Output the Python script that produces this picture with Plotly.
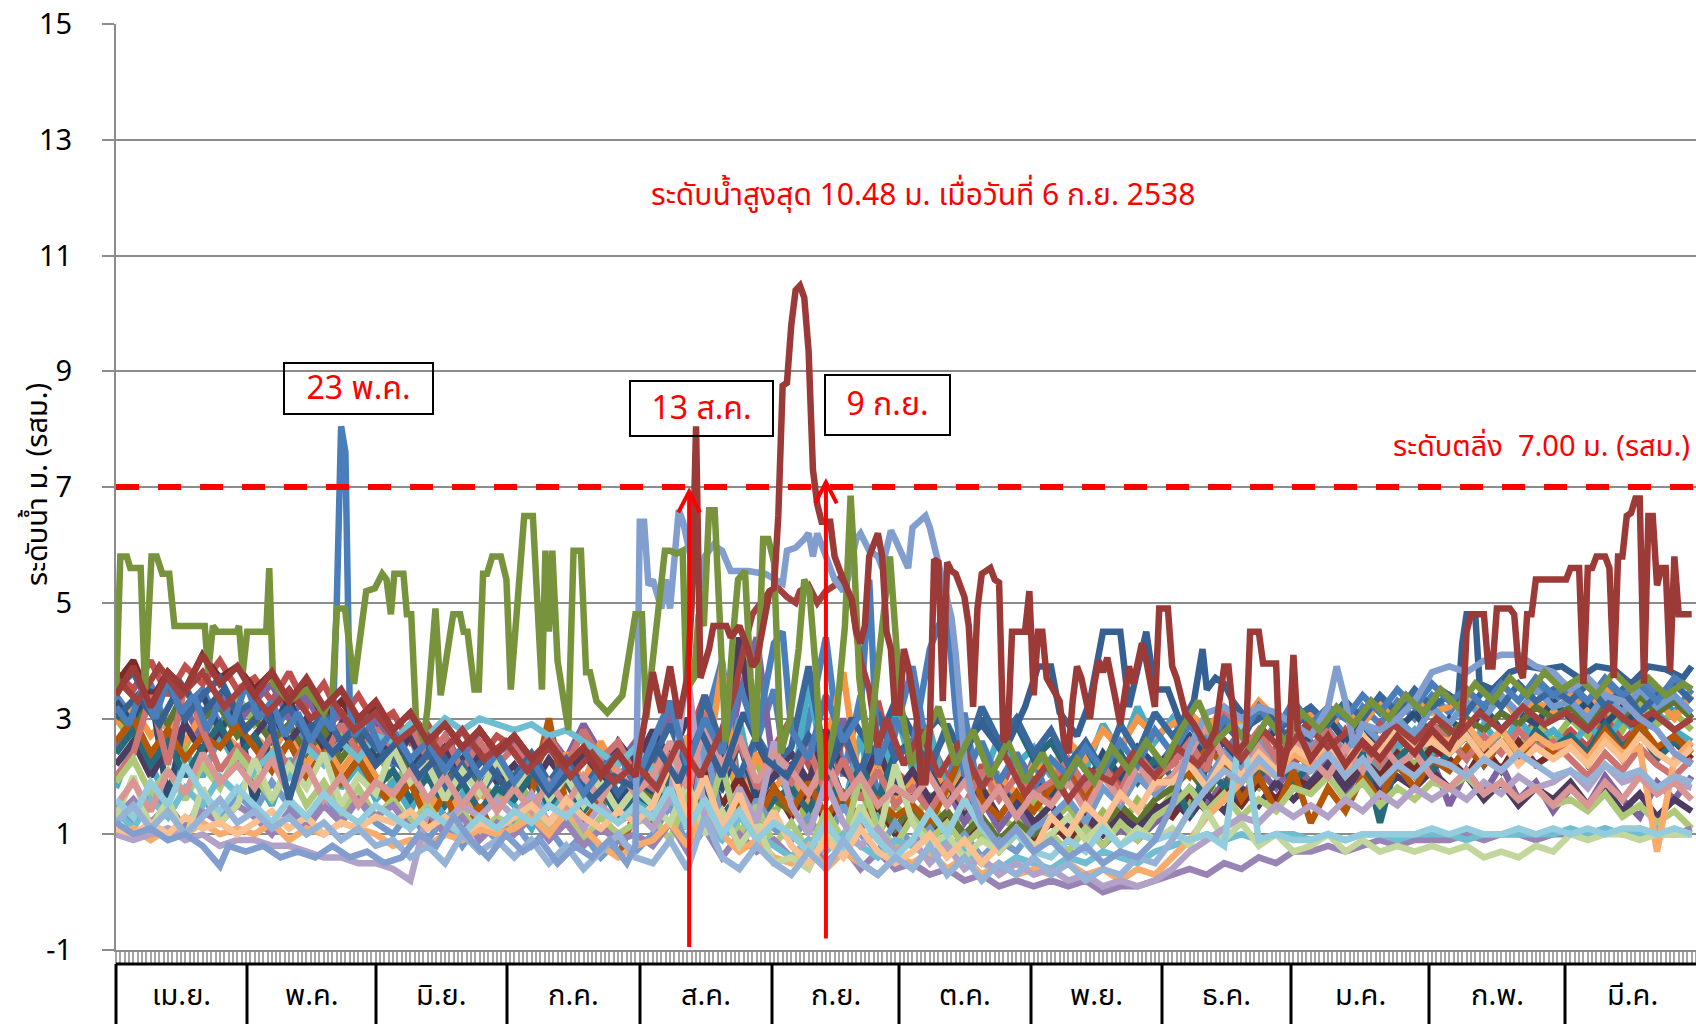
import plotly.graph_objects as go

# ---------------- layout constants (pixels) ----------------
FIG_W, FIG_H = 1696, 1024
M_L, M_R, M_T, M_B = 116, 0, 24, 74
PLOT_W = FIG_W - M_L - M_R
PLOT_H = FIG_H - M_T - M_B
X_MAX = 365.0
FONT = "Tahoma, 'Leelawadee UI', 'Noto Sans Thai', 'DejaVu Sans', sans-serif"
LW = 6.5

def px_to_paper_x(px):
    return (px - M_L) / PLOT_W

def px_to_paper_y(py):
    return (FIG_H - M_B - py) / PLOT_H

# ---------------- data ----------------
month_labels = ["เม.ย.", "พ.ค.", "มิ.ย.", "ก.ค.", "ส.ค.", "ก.ย.",
                "ต.ค.", "พ.ย.", "ธ.ค.", "ม.ค.", "ก.พ.", "มี.ค."]
y_ticks = [-1, 1, 3, 5, 7, 9, 11, 13, 15]
bank_level = 7.00

bg_days = list(range(0, 365, 4))

s01 = [3.4, 3.0, 3.6, 2.8, 3.2, 3.5, 2.9, 3.3, 3.1, 2.7, 3.2, 2.6, 3.0, 2.5, 2.9, 2.4,
       2.2, 2.7, 1.9, 2.4, 2.0, 2.6, 2.1, 1.8, 2.3, 1.7, 2.2, 1.6, 2.4, 1.9, 2.5,
       2.0, 3.2, 1.8, 2.9, 4.0, 1.7, 2.6, 3.5, 1.5, 2.9, 4.4, 2.0, 3.4, 1.6, 2.8,
       3.9, 2.2, 1.8, 3.1, 1.4, 2.0, 1.6, 2.3, 1.5, 2.0, 1.6, 2.2, 1.9, 2.4, 2.1,
       2.5, 2.2, 2.7, 2.4, 2.8, 2.5, 2.9, 2.6, 2.8, 3.1, 2.7, 3.2, 2.9, 3.3, 3.0, 3.4,
       3.1, 3.5, 3.2, 3.4, 3.0, 3.6, 3.3, 3.5, 3.2, 3.6, 3.3, 3.7, 3.4, 3.1, 3.5]
s02 = [3.8, 3.5, 4.0, 3.4, 3.9, 3.6, 4.0, 3.5, 3.7, 3.3, 3.8, 3.2, 3.6, 3.0, 3.4, 2.9,
       3.1, 2.6, 2.9, 2.4, 2.8, 2.3, 2.7, 2.5, 2.0, 2.6, 2.2, 2.8, 2.1, 2.4, 1.9,
       2.3, 1.8, 2.6, 3.4, 2.0, 2.9, 1.7, 2.5, 3.0, 2.2, 1.6, 2.7, 2.0, 3.3, 2.1,
       1.8, 2.6, 2.0, 1.4, 2.2, 1.7, 2.4, 1.9, 1.6, 2.1, 1.5, 2.3, 1.8, 2.0, 1.7,
       2.0, 2.4, 1.9, 2.2, 2.6, 2.1, 2.5, 2.2, 2.6, 2.3, 2.8, 2.4, 2.9, 2.5, 2.7, 2.3,
       2.6, 2.9, 2.4, 2.8, 2.5, 3.0, 2.6, 2.8, 2.5, 3.1, 2.6, 2.9, 2.4, 2.7, 2.5]
s03 = [3.0, 2.6, 3.3, 2.8, 2.5, 3.1, 2.7, 3.4, 2.9, 3.2, 2.6, 3.0, 2.4, 2.8, 2.2, 2.6,
       1.8, 2.3, 1.5, 2.0, 1.3, 1.9, 1.6, 2.1, 1.5, 1.9, 1.3, 1.8, 1.4, 2.0, 1.6,
       1.4, 2.2, 1.2, 1.9, 2.8, 1.5, 2.3, 1.3, 2.0, 1.1, 2.6, 1.4, 1.8, 1.0, 1.5,
       1.2, 1.7, 1.0, 1.4, 0.9, 1.3, 1.1, 1.6, 1.2, 1.5, 1.0, 1.4, 1.1, 1.6, 1.3,
       1.7, 1.5, 1.9, 1.6, 2.0, 1.8, 2.2, 1.9, 2.1, 2.4, 2.0, 2.3, 1.9, 2.5, 2.2, 2.6,
       2.4, 2.7, 2.3, 2.8, 2.5, 2.9, 2.6, 3.0, 2.7, 3.2, 2.8, 3.3, 2.9, 3.1, 2.8]
s04 = [2.5, 2.9, 2.3, 2.7, 3.2, 2.6, 3.4, 2.9, 3.3, 3.6, 3.0, 3.4, 2.8, 3.1, 2.6, 3.0,
       2.6, 2.9, 2.3, 2.7, 2.2, 2.8, 2.4, 2.6, 2.1, 2.7, 2.3, 2.9, 2.4, 2.2, 2.6,
       2.3, 3.1, 2.0, 2.8, 1.8, 3.4, 4.4, 2.1, 1.7, 2.6, 1.9, 3.0, 1.6, 2.3, 1.5,
       2.0, 1.4, 1.8, 1.2, 1.6, 1.1, 1.5, 1.0, 1.3, 0.9, 1.2, 0.8, 1.1, 0.9, 1.2,
       1.4, 1.8, 1.5, 1.9, 1.6, 2.1, 1.8, 2.2, 1.9, 2.3, 1.7, 2.2, 1.8, 2.4, 2.0, 2.3,
       1.5, 2.1, 1.7, 2.2, 1.6, 1.9, 1.4, 1.8, 1.5, 2.0, 1.6, 1.3, 1.9, 1.6, 2.0]
s05 = [1.8, 2.6, 2.2, 1.6, 2.4, 2.0, 2.7, 2.2, 2.0, 1.5, 2.3, 1.9, 2.5, 1.8, 2.2, 1.6,
       1.9, 1.4, 2.1, 1.2, 1.7, 1.3, 1.8, 1.5, 1.1, 1.7, 1.3, 1.9, 1.4, 2.0, 1.6,
       1.3, 1.9, 2.5, 1.4, 1.8, 3.0, 1.5, 2.2, 1.6, 3.6, 2.0, 1.4, 2.7, 1.2, 3.2,
       2.1, 2.8, 1.7, 2.4, 1.9, 2.7, 2.2, 2.5, 2.0, 2.6, 2.1, 2.9, 2.4, 3.2, 2.6,
       3.0, 2.5, 2.8, 2.2, 2.6, 2.1, 2.4, 2.0, 2.3, 2.7, 2.2, 2.6, 2.1, 2.5, 2.8, 2.4,
       2.7, 2.3, 2.9, 2.5, 3.0, 2.6, 2.8, 2.5, 2.9, 2.6, 3.0, 2.7, 3.1, 2.8, 2.6]
s06 = [2.9, 3.2, 2.7, 3.0, 2.6, 3.1, 2.8, 2.5, 2.7, 2.4, 2.9, 2.2, 2.6, 2.1, 2.5, 2.0,
       1.6, 2.0, 1.4, 1.8, 1.3, 1.7, 1.5, 1.8, 2.3, 1.7, 2.4, 1.9, 2.6, 2.0, 1.7,
       2.2, 1.6, 2.7, 1.9, 3.9, 1.4, 2.4, 1.8, 2.1, 1.5, 2.5, 3.8, 1.7, 2.3, 1.6,
       1.9, 2.4, 1.6, 2.1, 1.5, 2.0, 1.7, 2.2, 2.1, 2.6, 2.3, 2.8, 2.5, 3.0, 2.7,
       2.9, 3.1, 2.8, 3.2, 2.9, 3.3, 3.0, 2.9, 3.1, 2.8, 3.2, 2.9, 3.3, 3.0, 3.4, 3.1,
       3.2, 3.5, 3.1, 3.4, 3.0, 3.3, 3.1, 3.4, 3.1, 3.5, 3.2, 3.6, 3.3, 3.0, 3.4]
s07 = [3.3, 2.9, 3.5, 1.6, 3.0, 3.4, 2.8, 3.2, 1.5, 2.9, 3.3, 2.7, 3.0, 2.5, 2.8, 2.3,
       2.6, 2.1, 2.5, 1.9, 2.3, 1.8, 2.2, 1.9, 2.4, 1.8, 2.2, 1.7, 2.1, 1.6, 2.0,
       1.7, 2.4, 1.5, 2.1, 1.8, 2.6, 1.6, 2.0, 2.2, 1.8, 2.4, 1.6, 2.0, 1.5, 1.9,
       1.6, 2.1, 1.5, 2.0, 1.4, 1.8, 1.5, 1.9, 1.7, 2.2, 1.8, 2.4, 2.0, 2.5, 2.2,
       2.4, 2.7, 2.3, 2.6, 2.2, 2.5, 2.8, 2.4, 2.7, 3.0, 2.6, 2.9, 2.5, 2.8, 3.1, 2.7,
       3.0, 2.7, 3.2, 2.8, 3.1, 2.9, 3.3, 3.0, 3.3, 2.9, 3.2, 2.8, 3.1, 3.4, 3.0]
s08 = [3.6, 4.0, 3.3, 3.8, 3.5, 4.1, 3.7, 3.9, 3.5, 3.8, 3.2, 3.6, 3.0, 3.3, 2.9, 3.2,
       2.8, 3.1, 2.6, 2.9, 2.5, 2.8, 2.4, 2.7, 2.3, 2.6, 2.1, 2.5, 2.0, 2.4, 2.2,
       1.9, 2.5, 1.7, 2.2, 1.5, 2.0, 1.4, 1.8, 1.3, 1.8, 1.2, 1.6, 1.1, 1.5, 1.0,
       1.4, 1.0, 1.3, 0.9, 1.2, 0.8, 1.1, 0.9, 1.2, 0.9, 1.3, 1.0, 1.4, 1.1, 1.5,
       1.3, 1.7, 1.4, 1.8, 1.5, 1.9, 1.6, 2.0, 1.8, 2.2, 1.9, 2.3, 2.0, 2.4, 2.1, 2.5,
       2.3, 2.0, 2.5, 2.1, 2.6, 2.2, 2.4, 2.6, 2.2, 2.7, 2.3, 2.8, 2.4, 2.6, 2.3]
s09 = [3.1, 2.8, 3.3, 2.9, 3.5, 3.0, 3.2, 2.7, 3.0, 2.6, 2.9, 2.4, 2.8, 2.3, 2.7, 2.2,
       2.5, 2.0, 2.4, 1.9, 2.2, 1.8, 2.1, 1.7, 2.1, 1.6, 2.0, 1.5, 1.9, 1.4, 1.8,
       1.6, 2.0, 1.4, 1.9, 1.3, 1.7, 1.2, 1.6, 1.4, 1.9, 1.3, 1.7, 1.2, 1.6, 1.1,
       1.5, 1.1, 1.4, 1.0, 1.3, 0.9, 1.2, 1.0, 1.3, 1.0, 1.4, 1.1, 1.5, 1.2, 1.6,
       1.8, 2.1, 1.7, 2.2, 1.9, 2.3, 2.0, 2.4, 2.2, 2.6, 2.3, 2.7, 2.4, 2.8, 2.5, 2.9,
       2.7, 3.0, 2.8, 3.1, 2.9, 3.2, 3.0, 3.2, 2.9, 3.3, 3.0, 3.4, 3.1, 3.3, 3.0]
s10 = [2.2, 2.6, 2.0, 2.5, 2.9, 2.4, 2.8, 2.3, 2.7, 3.1, 2.6, 3.0, 2.5, 2.9, 2.4, 2.8,
       2.3, 2.7, 2.1, 2.5, 2.0, 2.4, 1.9, 2.2, 1.8, 2.3, 1.9, 2.4, 2.0, 2.6, 2.2,
       2.8, 2.3, 3.0, 2.5, 2.2, 4.4, 2.6, 2.0, 2.4, 1.9, 2.8, 2.1, 1.8, 2.5, 1.7,
       2.1, 1.6, 1.9, 1.4, 1.8, 1.3, 1.7, 1.2, 1.5, 1.1, 1.4, 1.0, 1.3, 1.1, 1.4,
       1.6, 1.3, 1.7, 1.4, 1.8, 1.5, 1.9, 1.6, 1.9, 2.2, 1.8, 2.1, 1.7, 2.0, 1.8, 2.1,
       1.8, 2.0, 1.6, 1.9, 1.5, 1.8, 1.6, 1.9, 1.5, 1.8, 1.4, 1.7, 1.3, 1.6, 1.4]
s11 = [2.4, 2.8, 2.2, 2.6, 2.0, 2.5, 2.9, 2.3, 2.7, 2.2, 2.6, 2.0, 2.4, 1.9, 2.3, 1.8,
       2.1, 1.6, 2.0, 1.5, 1.9, 1.4, 1.8, 1.6, 2.0, 1.5, 1.9, 1.4, 1.8, 1.3, 1.7,
       1.5, 1.9, 1.4, 1.8, 1.3, 1.7, 1.2, 1.6, 1.8, 1.4, 2.0, 1.5, 2.2, 1.6, 2.4,
       2.6, 2.2, 2.8, 2.4, 3.0, 2.5, 2.9, 2.3, 2.6, 2.1, 2.5, 2.0, 2.4, 1.9, 2.3,
       2.0, 1.3, 2.2, 1.8, 2.5, 2.0, 2.3, 1.9, 2.2, 2.5, 2.0, 2.4, 1.2, 2.3, 2.6, 2.1,
       2.4, 2.7, 2.2, 2.6, 2.3, 2.8, 2.5, 2.7, 2.4, 2.9, 2.5, 2.8, 2.3, 2.6, 2.4]
s12 = [2.6, 3.0, 2.4, 2.8, 2.3, 2.7, 2.5, 2.9, 2.5, 2.1, 2.6, 2.0, 2.4, 1.9, 2.3, 1.8,
       1.5, 1.9, 1.2, 1.7, 1.0, 1.5, 0.9, 1.3, 1.7, 3.0, 1.5, 1.2, 1.6, 0.6, 1.4,
       1.2, 1.7, 1.1, 1.6, 1.0, 1.5, 1.2, 1.8, 1.4, 1.9, 1.3, 1.7, 1.2, 1.6, 1.3,
       1.5, 1.2, 1.8, 2.5, 1.6, 1.3, 1.7, 1.4, 1.8, 2.2, 1.7, 2.1, 1.6, 2.0, 1.9,
       2.3, 2.0, 2.5, 2.2, 1.6, 2.0, 1.4, 2.1, 1.2, 1.8, 1.4, 2.0, 1.6, 2.2, 1.8, 2.3,
       2.1, 2.5, 2.2, 2.6, 2.3, 2.7, 2.4, 2.6, 2.3, 2.8, 2.4, 2.9, 2.5, 2.7, 2.4]
s13 = [1.5, 1.2, 1.8, 1.4, 1.1, 1.6, 1.3, 1.7, 1.4, 1.9, 1.5, 1.2, 1.7, 1.3, 1.6, 1.2,
       1.0, 1.4, 0.9, 1.3, 0.8, 1.2, 0.9, 1.2, 0.8, 1.1, 0.7, 1.0, 0.6, 0.9, 0.7,
       1.0, 1.5, 0.8, 2.6, 1.2, 0.9, 1.6, 1.1, 0.9, 1.3, 0.8, 1.5, 1.0, 0.7, 1.2,
       0.8, 1.1, 0.7, 1.0, 0.6, 0.9, 0.7, 1.1, 1.3, 1.6, 1.2, 1.8, 1.5, 2.0, 1.7,
       2.0, 2.3, 1.9, 2.4, 2.1, 2.6, 2.2, 2.7, 2.5, 2.8, 2.4, 2.9, 2.6, 3.0, 2.7, 3.2,
       2.9, 3.3, 3.0, 3.4, 3.1, 3.5, 3.2, 3.3, 3.0, 3.4, 3.1, 3.5, 3.2, 3.4, 3.1]
s14 = [2.0, 2.4, 3.4, 2.2, 3.6, 2.8, 2.1, 2.5, 2.2, 2.7, 2.1, 2.6, 2.3, 2.9, 2.4, 2.8,
       2.5, 2.9, 2.3, 2.7, 2.1, 2.6, 2.2, 2.5, 2.1, 2.7, 2.2, 2.8, 2.3, 2.6, 2.0,
       1.8, 2.4, 1.6, 3.1, 2.0, 2.6, 1.8, 2.2, 1.9, 2.5, 1.7, 2.3, 1.6, 2.1, 1.5,
       1.8, 1.4, 1.9, 1.5, 2.1, 1.6, 2.0, 1.7, 1.9, 2.3, 1.8, 2.2, 1.7, 2.4, 2.0,
       2.2, 2.6, 2.1, 3.2, 2.4, 2.8, 2.3, 2.7, 2.4, 2.8, 2.3, 2.6, 2.2, 2.7, 2.5, 2.9,
       2.6, 2.3, 2.7, 2.4, 2.8, 2.5, 2.6, 2.3, 2.0, 2.4, 2.1, 2.5, 2.2, 2.0, 2.3]
s15 = [1.9, 2.3, 1.7, 2.1, 1.6, 2.2, 1.8, 2.4, 2.0, 1.6, 2.1, 1.5, 1.9, 1.4, 1.8, 1.3,
       1.6, 1.2, 1.5, 1.1, 1.4, 1.0, 1.3, 1.1, 1.5, 1.0, 1.4, 0.9, 1.3, 1.0, 1.2,
       1.3, 0.9, 1.7, 1.1, 2.2, 1.0, 1.5, 0.8, 1.2, 0.7, 1.4, 0.9, 2.0, 1.1, 0.8,
       1.3, 0.9, 1.2, 0.8, 1.1, 0.7, 1.0, 0.8, 1.0, 0.7, 1.1, 0.8, 1.2, 0.9, 1.3,
       1.5, 1.8, 1.4, 1.7, 1.3, 1.6, 1.4, 1.8, 1.7, 2.0, 1.6, 1.9, 1.5, 1.8, 1.6, 1.9,
       1.8, 2.0, 1.7, 1.9, 1.6, 1.8, 1.5, 1.6, 1.4, 1.7, 1.3, 1.5, 1.2, 1.4, 1.1]
s16 = [1.3, 1.6, 1.2, 1.5, 1.1, 1.4, 1.2, 1.5, 1.3, 1.0, 1.4, 1.1, 1.5, 1.2, 1.6, 1.3,
       1.5, 1.1, 1.4, 1.0, 1.3, 0.9, 1.2, 1.0, 1.3, 0.9, 1.2, 0.8, 1.1, 0.9, 1.0,
       0.8, 1.2, 0.7, 1.1, 0.6, 1.0, 0.7, 0.9, 0.6, 0.9, 0.5, 0.8, 0.4, 0.7, 0.4,
       0.5, 0.3, 0.4, 0.2, 0.3, 0.1, 0.2, 0.1, 0.2, 0.1, 0.2, 0.0, 0.1, 0.1, 0.2,
       0.3, 0.4, 0.3, 0.5, 0.4, 0.6, 0.5, 0.7, 0.7, 0.8, 0.7, 0.8, 0.9, 0.8, 0.9, 0.9,
       0.9, 1.0, 0.9, 1.0, 1.0, 0.9, 1.0, 1.0, 1.0, 1.1, 1.0, 1.1, 1.0, 1.0, 1.1]
s17 = [1.4, 1.1, 1.6, 1.3, 1.8, 1.5, 2.0, 1.7, 2.1, 2.4, 2.0, 2.5, 2.2, 2.6, 2.3, 2.7,
       2.6, 2.9, 2.7, 3.0, 2.8, 3.0, 2.9, 2.8, 2.9, 2.7, 2.8, 2.6, 2.4, 2.2, 2.5,
       2.1, 1.6, 1.3, 1.1, 0.9, 1.3, 1.0, 0.8, 0.6, 0.9, 0.7, 1.0, 0.8, 0.6, 0.9,
       0.8, 0.6, 0.9, 0.7, 0.5, 0.4, 0.6, 0.5, 0.4, 0.6, 0.5, 0.7, 0.6, 0.5, 0.7,
       0.8, 0.9, 1.0, 0.9, 1.0, 0.9, 1.0, 1.0, 0.9, 1.0, 0.9, 1.0, 1.0, 0.9, 1.0, 1.0,
       1.0, 0.9, 1.0, 1.0, 1.0, 1.0, 1.0, 1.1, 1.0, 1.1, 1.0, 1.0, 1.1, 1.0, 1.0]
s18 = [1.0, 1.1, 0.9, 1.1, 1.0, 1.2, 1.0, 1.1, 1.0, 1.2, 0.9, 1.1, 1.0, 1.2, 1.1, 1.0,
       0.8, 0.9, 0.8, 1.0, 0.9, 1.1, 1.0, 1.1, 1.3, 1.0, 1.4, 1.1, 0.8, 0.6, 0.8,
       0.9, 1.2, 0.8, 1.5, 1.0, 0.7, 0.9, 0.6, 0.5, 0.8, 0.4, 0.7, 0.5, 0.3, 0.6,
       0.5, 0.7, 0.4, 0.6, 0.3, 0.5, 0.3, 0.4, 0.3, 0.5, 0.3, 0.4, 0.2, 0.4, 0.3,
       0.6, 0.9, 1.3, 1.6, 1.9, 2.2, 2.0, 2.4, 2.2, 2.5, 2.1, 2.6, 2.3, 2.8, 2.5, 2.7,
       2.6, 2.9, 2.5, 2.8, 2.4, 2.7, 2.5, 2.6, 2.3, 2.7, 2.4, 2.5, 0.7, 2.3, 2.6]
s19 = [3.5, 3.8, 3.2, 3.6, 3.0, 3.4, 3.7, 3.1, 3.3, 2.9, 3.2, 2.7, 3.1, 2.6, 2.9, 2.5,
       2.3, 2.0, 2.4, 1.8, 2.2, 1.7, 2.1, 2.0, 2.4, 1.9, 2.3, 1.8, 2.2, 1.7, 2.1,
       2.3, 2.9, 2.1, 3.4, 2.5, 2.0, 2.7, 2.2, 2.5, 3.9, 2.2, 2.8, 2.0, 3.1, 2.3,
       2.6, 2.1, 2.9, 2.3, 3.2, 2.6, 3.0, 2.4, 2.8, 2.2, 2.6, 2.1, 2.9, 2.4, 3.1,
       2.7, 3.0, 2.5, 2.9, 2.6, 3.2, 2.8, 3.0, 3.2, 2.9, 3.3, 3.0, 3.4, 3.1, 3.5, 3.2,
       3.4, 3.1, 3.5, 3.2, 3.6, 3.3, 3.5, 3.3, 3.6, 3.2, 3.5, 3.1, 3.4, 3.6, 3.3]
s20 = [1.3, 2.0, 1.1, 1.6, 0.9, 1.8, 1.2, 1.5, 2.3, 1.6, 2.2, 1.8, 2.4, 1.5, 2.0, 1.7,
       2.5, 1.9, 2.2, 1.6, 2.1, 1.7, 2.3, 1.8, 2.2, 1.6, 2.0, 1.5, 1.9, 1.4, 1.8,
       1.5, 1.2, 1.9, 1.0, 1.4, 0.8, 1.2, 0.5, 0.6, 0.4, 1.0, 0.7, 1.5, 0.9, 2.2,
       1.2, 0.8, 1.0, 0.6, 0.9, 0.7, 1.1, 0.8, 1.0, 1.3, 0.9, 1.2, 0.8, 1.1, 0.9,
       1.1, 0.8, 1.4, 0.9, 1.2, 0.8, 1.0, 0.7, 0.8, 1.0, 0.7, 0.9, 0.7, 0.8, 0.7, 0.8,
       0.7, 0.8, 0.6, 0.7, 0.6, 0.8, 0.7, 1.0, 0.9, 1.0, 1.0, 0.9, 1.0, 1.0, 1.0]
s21 = [1.0, 0.9, 1.0, 1.1, 0.9, 1.0, 0.8, 0.9, 0.9, 0.8, 0.8, 0.7, 0.6, 0.6, 0.5, 0.5,
       0.4, 0.2, 1.4, 1.2, 1.5, 1.3, 1.6, 1.3, 1.7, 1.2, 1.6, 1.1, 1.5, 1.2, 1.4,
       1.1, 1.6, 3.8, 1.3, 1.0, 1.8, 1.2, 2.6, 1.5, 1.0, 1.9, 1.2, 0.8, 1.1, 0.7,
       0.9, 0.5, 0.8, 0.4, 0.6, 0.3, 0.5, 0.3, 0.4, 0.2, 0.3, 0.1, 0.2, 0.1, 0.2,
       0.4, 0.7, 0.9, 1.1, 1.3, 1.2, 1.5, 1.3, 1.5, 1.3, 1.6, 1.4, 1.7, 1.5, 1.8, 1.6,
       1.8, 1.6, 1.9, 1.7, 2.0, 1.8, 1.9, 2.1, 1.8, 2.2, 1.9, 2.0, 1.7, 1.9, 1.8]
s22 = [1.5, 1.9, 1.4, 2.1, 1.7, 2.4, 1.9, 2.2, 1.8, 2.3, 1.7, 2.2, 1.6, 2.0, 1.5, 1.9,
       1.7, 2.1, 1.6, 2.0, 1.5, 1.9, 1.4, 1.8, 1.4, 1.9, 1.5, 2.0, 1.6, 2.1, 1.7,
       2.0, 2.6, 1.8, 2.9, 2.2, 2.7, 1.9, 2.4, 2.1, 1.7, 2.3, 1.6, 2.0, 1.5, 1.8,
       1.6, 2.0, 1.5, 1.9, 1.4, 1.8, 1.3, 1.7, 1.5, 1.9, 1.4, 2.0, 1.6, 2.2, 1.8,
       2.0, 2.4, 2.9, 2.3, 2.0, 2.5, 2.1, 2.6, 2.3, 2.0, 2.5, 2.1, 2.6, 2.2, 2.4, 2.0,
       1.8, 2.1, 1.7, 1.9, 1.6, 1.8, 1.5, 1.8, 1.5, 1.9, 1.6, 2.0, 1.7, 1.9, 1.6]
s23 = [1.1, 1.0, 1.2, 1.0, 1.3, 1.1, 1.2, 1.0, 1.2, 1.4, 1.1, 1.3, 1.0, 1.2, 1.1, 1.3,
       1.2, 1.4, 1.1, 1.3, 1.0, 1.2, 1.1, 1.3, 1.5, 1.2, 1.6, 1.3, 1.1, 1.4, 1.2,
       1.5, 2.2, 1.3, 2.0, 1.1, 1.7, 0.9, 1.4, 0.8, 0.5, 0.9, 0.6, 1.1, 0.7, 0.5,
       0.7, 1.0, 0.6, 0.9, 0.5, 0.8, 1.1, 0.7, 1.3, 1.0, 1.5, 1.2, 1.7, 1.4, 1.9,
       1.9, 2.2, 1.8, 2.3, 2.0, 2.4, 2.1, 2.5, 2.3, 2.6, 2.2, 2.7, 2.4, 2.8, 2.5, 2.6,
       2.4, 2.7, 2.3, 2.6, 2.2, 2.5, 2.3, 2.5, 2.2, 2.6, 2.3, 2.7, 2.4, 2.2, 2.5]
s24 = [1.6, 1.3, 1.9, 1.5, 2.2, 1.7, 1.4, 1.8, 1.5, 1.2, 1.6, 1.3, 1.7, 1.4, 1.2, 1.5,
       1.3, 1.1, 1.4, 1.2, 1.0, 1.3, 1.1, 1.4, 1.2, 1.5, 1.3, 1.6, 1.4, 1.2, 1.5,
       1.3, 1.8, 1.1, 1.6, 1.0, 1.4, 0.9, 1.2, 1.0, 0.7, 1.2, 0.8, 1.3, 0.9, 0.6,
       0.9, 1.4, 1.0, 1.6, 1.1, 0.8, 1.0, 0.7, 0.6, 0.9, 0.7, 1.1, 0.8, 1.0, 0.9,
       1.0, 0.9, 1.0, 0.8, 2.9, 0.9, 1.0, 0.9, 0.9, 1.0, 0.9, 1.0, 1.0, 1.0, 1.0, 1.1,
       1.0, 1.1, 1.0, 1.0, 1.1, 1.0, 1.1, 1.0, 1.1, 1.0, 1.1, 1.1, 1.0, 1.1, 1.0]
s25 = [1.2, 1.5, 1.1, 1.4, 1.0, 1.3, 1.6, 1.2, 1.4, 1.1, 1.3, 1.0, 1.2, 0.9, 1.1, 0.8,
       0.9, 0.6, 0.8, 0.5, 1.0, 0.7, 0.9, 0.6, 0.9, 0.5, 0.8, 0.4, 0.7, 1.0, 0.6,
       0.5, 0.9, 0.4, 1.3, 0.6, 0.4, 0.8, 0.5, 0.3, 0.7, 0.4, 0.9, 0.5, 0.3, 0.6,
       0.4, 0.8, 0.3, 0.6, 0.2, 0.5, 0.3, 0.6, 0.3, 0.5, 0.2, 0.4, 0.3, 0.6, 0.5,
       0.9, 1.4, 1.8, 2.1, 1.9, 2.3, 2.0, 2.2, 2.1, 2.4, 2.0, 2.3, 1.9, 2.2, 2.0, 2.3,
       2.2, 2.0, 2.3, 2.1, 2.4, 2.2, 2.0, 2.1, 1.9, 2.2, 2.0, 2.1, 1.8, 2.0, 1.9]

bg_series = [s01, s02, s03, s04, s05, s06, s07, s08, s09, s10, s11, s12, s13,
             s14, s15, s16, s17, s18, s19, s20, s21, s22, s23, s24, s25]
bg_colors = ["#4F81BD", "#C0504D", "#9BBB59", "#8064A2", "#4BACC6", "#F79646",
             "#2C4D75", "#772C2A", "#5F7530", "#4D3B62", "#276A7C", "#B65708",
             "#729ACA", "#CD7371", "#AFC97A", "#9983B5", "#6FBDD1", "#F9AB6B",
             "#3A679C", "#C3D69B", "#B2A2C7", "#D99694", "#FAC090", "#93CDDD",
             "#95B3D7"]

# dark navy series (high Oct-Dec, ~3.8 Feb-Mar)
f_days = [0, 5, 10, 15, 20, 25, 30, 35, 40, 45, 50, 55, 60, 65, 70, 75, 80, 85, 90, 95,
          100, 105, 110, 115, 120, 125, 130, 135, 140, 145, 150, 155, 160, 165, 170, 175,
          180, 185, 190, 195, 200, 205, 210, 213, 216, 218, 222, 225, 228, 232, 234, 236,
          238, 240, 243, 246, 249, 251, 252, 254, 256, 258, 262, 266, 270, 274, 278, 282,
          286, 290, 294, 298, 302, 306, 310, 311, 312, 314, 315, 318, 322, 326, 330, 334,
          338, 342, 346, 350, 354, 358, 362, 364]
f_vals = [3.0, 3.4, 2.9, 3.6, 3.1, 3.5, 2.8, 3.2, 1.6, 2.9, 2.4, 2.8, 2.2, 2.6, 2.0, 2.4,
          1.9, 2.3, 1.8, 2.2, 1.7, 2.1, 1.6, 2.0, 1.8, 2.5, 1.9, 2.8, 2.0, 3.1, 2.3, 2.0,
          2.7, 2.2, 3.0, 2.4, 3.3, 2.6, 3.0, 2.5, 2.9, 2.4, 3.2, 3.9, 3.9, 3.1, 2.7, 3.3,
          4.5, 4.5, 3.2, 3.8, 4.5, 3.5, 3.5, 2.9, 3.3, 4.2, 3.5, 3.7, 3.6, 3.3, 2.9, 3.1,
          2.7, 3.0, 2.8, 3.1, 2.9, 3.3, 3.0, 3.4, 3.1, 3.5, 3.3, 4.3, 4.8, 4.8, 3.6, 3.5,
          3.8, 3.9, 3.85, 3.9, 3.7, 3.9, 3.85, 3.6, 3.9, 3.85, 3.7, 3.9]

# blue series with the 23 May spike
c_days = [0, 3, 6, 9, 12, 15, 18, 21, 24, 27, 30, 33, 36, 39, 42, 45, 48, 50, 51, 52,
          53, 54, 55, 58, 61, 64, 68, 72, 76, 80, 84, 88, 92, 96, 100, 104, 108, 112,
          116, 120, 124, 128, 132, 136, 140, 144, 148, 152, 154, 156, 160, 164, 168, 172,
          174, 176, 180, 184, 188, 190, 192, 194, 196, 200, 204, 208, 212, 216, 220, 224,
          228, 232, 236, 240, 244, 248, 252, 256, 260, 264, 268, 272, 276, 280, 284, 288,
          292, 296, 300, 304, 308, 312, 316, 320, 324, 328, 332, 336, 340, 344, 348, 352,
          356, 360, 364]
c_vals = [3.2, 2.9, 3.5, 3.0, 3.7, 3.1, 3.4, 2.8, 3.3, 2.9, 3.6, 3.0, 3.3, 2.7, 3.1, 2.6,
          3.0, 2.8, 5.0, 8.05, 7.6, 3.2, 2.7, 3.0, 2.5, 2.8, 2.3, 2.6, 2.1, 2.5, 2.0, 2.4,
          1.9, 2.3, 1.8, 2.2, 1.7, 2.1, 2.4, 1.9, 2.6, 3.3, 2.2, 3.0, 2.4, 3.6, 2.7, 4.3,
          4.5, 2.8, 2.3, 3.4, 2.6, 3.1, 5.4, 2.2, 3.0, 2.5, 4.2, 4.6, 4.9, 3.1, 2.0, 2.6,
          1.9, 2.4, 1.8, 2.3, 2.0, 2.5, 2.1, 2.6, 2.2, 2.8, 2.4, 2.9, 2.5, 3.0, 2.7, 3.2,
          2.8, 3.3, 2.9, 3.2, 3.0, 3.4, 3.1, 3.5, 3.2, 3.6, 3.3, 3.5, 3.2, 3.6, 3.3, 3.7,
          3.4, 3.6, 3.3, 3.7, 3.4, 3.6, 3.3, 3.7, 3.5]

# second dark red series (~5.2 plateau in late Aug - Sep)
e_days = [0, 5, 10, 15, 20, 25, 30, 35, 40, 45, 50, 55, 60, 65, 70, 75, 80, 85, 90, 95,
          100, 105, 110, 115, 120, 125, 130, 135, 140, 143, 145, 147, 149, 151, 153, 155,
          157, 158, 160, 162, 164, 166, 167, 169, 170, 171, 172, 174, 176, 178, 182, 186,
          190, 195, 200, 205, 210, 215, 220, 225, 230, 235, 240, 245, 250, 255, 260, 265,
          270, 275, 280, 285, 290, 295, 300, 305, 310, 315, 320, 325, 330, 335, 340, 345,
          350, 355, 360, 364]
e_vals = [3.7, 3.3, 3.9, 3.4, 3.8, 3.2, 3.6, 3.1, 3.5, 3.0, 3.3, 2.8, 3.1, 2.6, 2.9, 2.4,
          2.8, 2.3, 2.6, 2.1, 2.5, 2.0, 2.4, 1.9, 2.2, 1.8, 2.6, 2.0, 2.8, 3.5, 4.2, 4.8,
          5.0, 5.2, 5.25, 5.1, 5.0, 5.2, 5.3, 5.0, 5.2, 5.3, 5.4, 5.2, 5.0, 4.4, 4.0, 3.5,
          2.5, 3.0, 2.2, 2.8, 2.0, 2.6, 1.8, 2.4, 1.7, 2.2, 1.6, 2.1, 1.9, 2.4, 2.0, 2.5,
          2.2, 2.7, 2.3, 2.8, 2.4, 2.9, 2.5, 2.8, 2.4, 2.9, 2.6, 3.0, 2.7, 3.1, 2.8, 3.2,
          2.9, 3.1, 2.8, 3.2, 2.9, 3.1, 2.8, 3.0]

# steel-blue series (high through Aug - Sep)
d_days = [0, 4, 8, 12, 16, 20, 24, 26, 30, 34, 38, 42, 46, 50, 54, 58, 62, 66, 70, 74,
          78, 82, 86, 90, 94, 98, 102, 106, 110, 114, 118, 120, 121, 122, 123, 124, 126,
          127, 128, 130, 131, 133, 135, 136, 138, 140, 142, 146, 150, 152, 154, 155, 157,
          159, 160, 161, 162, 164, 166, 168, 169, 171, 172, 174, 176, 177, 179, 180, 183,
          184, 187, 188, 190, 191, 193, 194, 195, 196, 198, 200, 204, 208, 212, 216, 220,
          224, 228, 232, 236, 240, 244, 248, 252, 256, 260, 264, 268, 272, 276, 280, 282,
          284, 286, 288, 292, 296, 300, 304, 308, 312, 316, 320, 324, 328, 332, 336, 340,
          344, 348, 352, 356, 360, 364]
d_vals = [1.2, 1.0, 1.1, 0.9, 1.0, 0.8, 0.45, 0.8, 0.7, 0.8, 0.6, 0.7, 0.6, 0.8, 0.6, 0.7,
          0.5, 0.6, 1.0, 0.8, 1.3, 0.9, 0.6, 1.0, 0.7, 0.9, 0.5, 0.8, 0.6, 0.9, 0.5, 0.8,
          6.4, 6.4, 5.3, 5.4, 4.9, 5.4, 4.9, 6.6, 6.4, 5.7, 5.25, 5.8, 6.0, 5.9, 5.55, 5.55,
          5.5, 5.4, 5.33, 5.9, 5.95, 6.1, 6.2, 5.8, 6.2, 5.8, 5.4, 5.2, 5.4, 6.1, 6.2, 5.9,
          5.8, 5.6, 6.25, 6.1, 5.6, 6.3, 6.5, 6.3, 5.7, 5.4, 4.75, 4.1, 3.3, 2.3, 1.6, 1.2,
          0.8, 1.1, 0.7, 0.9, 0.6, 0.8, 0.5, 0.7, 0.6, 0.9, 1.5, 2.5, 3.1, 3.2, 3.0, 3.2,
          3.1, 2.9, 2.7, 3.2, 3.9, 3.3, 2.5, 2.9, 2.8, 3.0, 3.3, 3.8, 3.9, 3.8, 4.0, 4.1,
          4.1, 3.9, 3.8, 3.5, 3.7, 3.4, 3.3, 3.0, 2.8, 2.4, 2.2]

# olive green series (high Apr - Sep)
b_days = [0, 1, 2.5, 3.3, 5.7, 6.7, 8.2, 9.4, 10.7, 12.3, 13.5, 20.5, 21.3, 22.4, 23.4,
          27.9, 28.4, 29.3, 30.3, 34.7, 35.4, 36.3, 40, 44, 48, 50, 51, 52.9, 55, 57.8,
          59.8, 61.5, 62.5, 63.5, 64.3, 66.4, 67.2, 68.2, 69.3, 71, 72, 73.8, 75, 77.9, 79.5,
          80.3, 81.2, 82.8, 83.8, 84.8, 85.7, 86.9, 88.9, 90.2, 91.2, 92.2, 94.3, 96.3,
          98.4, 99.2, 100, 100.8, 102, 104.5, 105.7, 107.4, 108.6, 109.5, 111, 113.5, 117,
          120, 121.5, 122.5, 126.8, 128, 129.5, 130.9, 131.8, 133.5, 134.6, 135.8, 137,
          138.3, 139.6, 140.8, 142.5, 143.7, 145.3, 146.6, 147.8, 149.5, 150.7, 152,
          153.6, 155.7, 157.7, 159, 160.2, 161.8, 163.1, 164.7, 166.4, 168.4, 169.7, 170.5,
          171.7, 173.8, 178.8, 181.2, 183.7, 190, 194, 198, 202, 206, 210, 214, 218, 222,
          226, 230, 234, 238, 242, 246, 250, 254, 258, 262, 266, 270, 274, 278, 282, 286,
          290, 294, 298, 302, 306, 310, 314, 318, 322, 326, 330, 334, 338, 342, 346, 350,
          354, 358, 362, 364]
b_vals = [3.4, 5.8, 5.8, 5.6, 5.6, 3.5, 5.8, 5.8, 5.5, 5.5, 4.6, 4.6, 3.8, 4.6, 4.5,
          4.5, 4.6, 3.8, 4.5, 4.5, 5.6, 3.6, 3.3, 3.5, 3.1, 3.4, 4.9, 4.9, 3.6, 5.2,
          5.25, 5.5, 5.4, 4.8, 5.5, 5.5, 4.8, 4.8, 3.0, 2.6, 3.2, 4.9, 3.4, 4.8, 4.8,
          4.5, 4.5, 3.5, 3.5, 5.5, 5.5, 5.8, 5.8, 5.4, 3.5, 4.5, 6.5, 6.5,
          3.5, 5.9, 4.5, 5.9, 4.0, 2.8, 5.9, 5.9, 3.8, 3.8, 3.3, 3.1, 3.4,
          4.8, 4.8, 3.0, 5.9, 5.9, 5.85, 5.9, 3.5, 3.7, 4.8, 4.6, 6.6,
          6.6, 4.4, 2.6, 4.4, 5.4, 5.55, 3.7, 2.6, 6.1, 6.1, 5.7,
          2.4, 3.0, 4.2, 5.4, 5.2, 3.7, 1.95, 2.4, 3.0, 4.6, 6.85, 5.8,
          3.7, 2.4, 5.8, 3.3, 2.2, 3.2, 2.2, 2.8, 2.0, 2.6, 1.9, 2.4, 1.8, 2.3,
          1.9, 2.5, 2.1, 2.6, 2.2, 2.8, 3.3, 2.6, 2.9, 2.5, 3.0, 2.6, 3.1, 2.8, 3.2, 2.9,
          3.3, 3.0, 3.4, 3.1, 3.5, 3.2, 3.6, 3.3, 3.7, 3.4, 3.8, 3.5, 3.7, 3.4, 3.8, 3.5,
          3.7, 3.4, 3.6, 3.5]

# dark red series with the 10.48 m peak on 6 Sep 2538
a_days = [0, 4, 8, 12, 16, 20, 24, 28, 32, 36, 40, 44, 48, 52, 56, 60, 64, 68, 72, 76,
          80, 84, 88, 92, 96, 100, 104, 108, 112, 116, 120, 124, 126, 128, 130, 132, 133,
          134, 135, 137, 138, 141, 142, 144, 146, 147, 148, 150, 151, 152, 153, 154, 155,
          156, 157, 158, 159, 160, 161, 162, 163, 165, 166, 168, 170, 171, 172, 173, 174,
          176, 177, 178, 179, 180, 181, 182, 183, 185, 186, 187, 188, 189, 190, 191, 192,
          193, 194, 196, 197, 198, 199, 200, 202, 203, 204, 205, 206, 207, 210, 211, 212,
          213, 214, 215, 217, 218, 219, 220, 221, 222, 223, 224, 225, 226, 227, 228, 229,
          231, 232, 233, 234, 235, 237, 238, 239, 240, 241, 243, 244, 245, 247, 249, 252,
          254, 256, 257, 259, 261, 262, 264, 265, 268, 269, 271, 272, 273, 276, 280, 284,
          288, 292, 296, 300, 304, 308, 311, 312, 313, 316, 317, 318, 319, 322, 323, 324,
          325, 326, 327, 328, 335, 336, 338, 339, 340, 341, 342, 344, 345, 346, 347, 348,
          349, 350, 351, 352, 353, 354, 355, 356, 357, 358, 359, 360, 361, 364]
a_vals = [3.4, 3.9, 3.2, 3.8, 3.5, 4.1, 3.6, 3.9, 3.4, 3.8, 3.3, 3.7, 3.2, 3.5, 3.0, 3.3,
          2.8, 3.1, 2.6, 2.9, 2.5, 2.8, 2.4, 2.7, 2.3, 2.6, 2.2, 2.5, 2.0, 2.4, 2.0, 3.8,
          3.1, 3.9, 3.0, 3.7, 5.0, 8.05, 3.7, 4.2, 4.6, 4.6, 4.4, 4.6, 4.2, 3.9, 4.0, 4.8,
          5.2, 5.25, 6.5, 8.75, 8.8, 9.8, 10.4, 10.48, 10.27, 9.35, 7.3, 6.7, 6.4, 6.4,
          5.8, 5.4, 5.05, 4.5, 4.3, 4.6, 5.8, 6.2, 5.8, 4.5, 4.2, 3.1, 3.1, 4.2, 3.9, 3.0,
          1.9, 1.9, 2.8, 5.75, 5.7, 3.3, 5.7, 5.55, 5.5, 5.1, 4.6, 3.2, 4.9, 5.5, 5.6, 5.4,
          5.35, 2.6, 2.7, 4.5, 4.5, 5.2, 3.4, 4.5, 4.5, 3.7, 3.4, 3.3, 2.6, 2.4, 3.3, 3.9,
          3.7, 3.3, 3.0, 3.6, 4.0, 3.8, 4.05, 3.3, 2.9, 3.4, 3.9, 3.6, 4.3, 4.0, 3.6, 3.2,
          4.9, 4.9, 3.9, 3.7, 3.1, 2.9, 2.5, 2.8, 3.9, 3.9, 2.4, 2.6, 4.5, 4.5, 3.95, 3.95,
          2.0, 2.6, 4.1, 2.8, 2.3, 2.7, 2.2, 2.6, 2.3, 2.7, 2.4, 2.8, 2.5, 2.9, 4.5, 4.8,
          4.8, 3.9, 3.9, 4.9, 4.9, 4.8, 3.9, 3.7, 4.8, 4.8, 5.4, 5.4, 5.6, 5.6, 3.6, 5.6,
          5.6, 5.8, 5.8, 5.6, 3.7, 5.8, 5.8, 6.5, 6.55, 6.8, 6.8, 3.6, 6.5, 6.5, 5.3, 5.6,
          5.6, 3.8, 5.8, 4.8, 4.8]

bank_days = [0, 365]
bank_vals = [bank_level, bank_level]

# arrows (13 Aug and 9 Sep) : x position in days, bottom and tip in metres
arrow_x = [132.4, 164.0]
arrow_bottom = [-0.95, -0.8]
arrow_tip = [6.92, 7.08]

# ---------------- figure ----------------
fig = go.Figure()

for vals, col in zip(bg_series, bg_colors):
    fig.add_trace(go.Scatter(x=bg_days[:len(vals)], y=vals, mode="lines",
                             line=dict(color=col, width=LW), hoverinfo="skip"))

for dd, vv, col in [(f_days, f_vals, "#376092"), (c_days, c_vals, "#4A7EBB"),
                    (e_days, e_vals, "#A3413E"), (d_days, d_vals, "#819ECF"),
                    (b_days, b_vals, "#77933C"), (a_days, a_vals, "#9C3A37")]:
    n = min(len(dd), len(vv))
    fig.add_trace(go.Scatter(x=dd[:n], y=vv[:n], mode="lines",
                             line=dict(color=col, width=LW), hoverinfo="skip"))

fig.add_trace(go.Scatter(x=bank_days, y=bank_vals, mode="lines",
                         line=dict(color="#FF0000", width=6, dash="23px,19px"),
                         hoverinfo="skip"))

shapes = []
# arrows
for ax_, ab, at in zip(arrow_x, arrow_bottom, arrow_tip):
    shapes.append(dict(type="line", xref="x", yref="y", x0=ax_, x1=ax_, y0=ab, y1=at - 0.05,
                       line=dict(color="#FF0000", width=4)))
    shapes.append(dict(type="path", xref="x", yref="y",
                       path=f"M {ax_ - 2.5},{at - 0.36} L {ax_},{at} L {ax_ + 2.5},{at - 0.36}",
                       line=dict(color="#FF0000", width=4)))

# month boxes under the axis (pixel positions of the dividers)
box_edges_px = [116, 247, 376, 507, 640, 772, 899, 1031, 1162, 1291, 1429, 1565, 1700]
box_top_y = px_to_paper_y(964)
box_bot_y = px_to_paper_y(1040)
shapes.append(dict(type="line", xref="paper", yref="paper", x0=0, x1=1.01,
                   y0=box_top_y, y1=box_top_y, line=dict(color="black", width=3)))
for px in box_edges_px[:-1]:
    shapes.append(dict(type="line", xref="paper", yref="paper",
                       x0=px_to_paper_x(px), x1=px_to_paper_x(px),
                       y0=box_top_y, y1=box_bot_y, line=dict(color="black", width=3)))

annotations = []
for i, lab in enumerate(month_labels):
    cx = (box_edges_px[i] + box_edges_px[i + 1]) / 2
    annotations.append(dict(text=lab, xref="paper", yref="paper", x=px_to_paper_x(cx),
                            y=px_to_paper_y(996), xanchor="center", yanchor="middle",
                            showarrow=False, font=dict(family=FONT, size=29, color="black")))

# date boxes (transparent, so the peaks show through)
for txt, x0, x1, y0, y1 in [("23 พ.ค.", 284, 433, 363, 414),
                            ("13 ส.ค.", 630, 773, 381, 436),
                            ("9 ก.ย.", 825, 950, 375, 435)]:
    annotations.append(dict(text=txt, xref="paper", yref="paper",
                            x=px_to_paper_x((x0 + x1) / 2), y=px_to_paper_y((y0 + y1) / 2),
                            xanchor="center", yanchor="middle", showarrow=False,
                            width=x1 - x0 - 2, height=y1 - y0 - 2, borderpad=0,
                            bordercolor="black", borderwidth=2, bgcolor="rgba(0,0,0,0)",
                            font=dict(family=FONT, size=32, color="#FF0000")))

annotations.append(dict(text="ระดับน้ำสูงสุด 10.48 ม. เมื่อวันที่ 6 ก.ย. 2538",
                        xref="paper", yref="paper", x=px_to_paper_x(923), y=px_to_paper_y(196),
                        xanchor="center", yanchor="middle", showarrow=False,
                        font=dict(family=FONT, size=30, color="#FF0000")))
annotations.append(dict(text="ระดับตลิ่ง  7.00 ม. (รสม.)",
                        xref="paper", yref="paper", x=px_to_paper_x(1692), y=px_to_paper_y(447),
                        xanchor="right", yanchor="middle", showarrow=False,
                        font=dict(family=FONT, size=29, color="#FF0000")))
# y-axis title
annotations.append(dict(text="ระดับน้ำ ม. (รสม.)", xref="paper", yref="paper",
                        x=px_to_paper_x(38), y=px_to_paper_y(485), textangle=-90,
                        xanchor="center", yanchor="middle", showarrow=False,
                        font=dict(family=FONT, size=29, color="black")))

fig.update_layout(
    width=FIG_W, height=FIG_H,
    margin=dict(l=M_L, r=M_R, t=M_T, b=M_B, autoexpand=False),
    paper_bgcolor="white", plot_bgcolor="white",
    showlegend=False, hovermode=False,
    shapes=shapes, annotations=annotations,
    font=dict(family=FONT, size=29, color="black"),
)
fig.update_xaxes(range=[0, X_MAX], showgrid=False, zeroline=False, automargin=False,
                 showline=True, linecolor="#8C8C8C", linewidth=2,
                 ticks="outside", tick0=0, dtick=1, ticklen=13, tickwidth=2,
                 tickcolor="#A6A6A6", showticklabels=False)
fig.update_yaxes(range=[-1, 15], tickvals=y_ticks, showgrid=True, gridcolor="#8C8C8C",
                 gridwidth=2, zeroline=False, showline=True, linecolor="#8C8C8C",
                 linewidth=2, ticks="outside", ticklen=12, tickwidth=2, tickcolor="#8C8C8C",
                 ticklabelstandoff=24, automargin=False,
                 tickfont=dict(family=FONT, size=29, color="black"))

fig.write_html("out.html", config={"displayModeBar": False},
               post_script="document.body.style.margin='0';document.body.style.overflow='hidden';")
